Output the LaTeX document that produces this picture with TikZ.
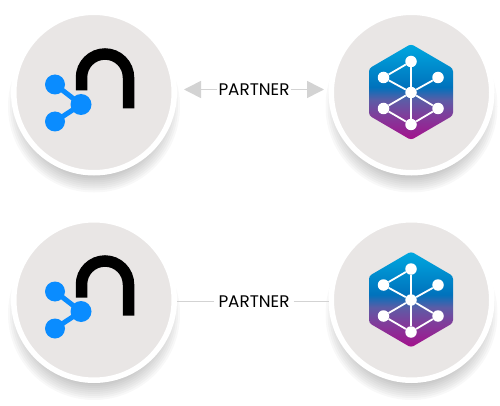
\documentclass[tikz,border=0pt]{standalone}
\usepackage{fontspec}
\setmainfont{Poppins}
\usetikzlibrary{arrows.meta}
\definecolor{badgegray}{HTML}{E9E6E5}
\definecolor{linkgray}{HTML}{D3D3D3}
\definecolor{dotblue}{HTML}{0A8CFF}
\definecolor{hexcyan}{HTML}{00A8E0}
\definecolor{hexblue}{HTML}{0072BC}
\definecolor{hexmauve}{HTML}{5C5CA6}
\definecolor{hexplum}{HTML}{7F3E9B}
\definecolor{hexpurple}{HTML}{A5108C}
\pgfdeclareverticalshading{hexfade}{100bp}{color(0bp)=(hexpurple); color(25bp)=(hexpurple); color(38bp)=(hexplum); color(45.8bp)=(hexmauve); color(52.5bp)=(hexblue); color(75bp)=(hexcyan); color(100bp)=(hexcyan)}
\tikzset{
	badge/.style={circle, draw=white, line width=5.5pt, fill=badgegray, minimum size=160.5pt, inner sep=0pt},
	partnerlabel/.style={font=\fontsize{16.8}{17}\selectfont, text=black, inner sep=1pt},
	arrowlink/.style={draw=linkgray, line width=1.6pt, -{Triangle[length=17pt,width=17pt]}},
	plainlink/.style={draw=linkgray, line width=1.6pt},
	dot/.style={circle, fill=white, minimum size=11.5pt, inner sep=0pt},
	bluedot/.style={circle, fill=dotblue, minimum size=20pt, inner sep=0pt},
	shareicon/.pic={
		\draw[line width=11.5pt, line cap=butt] (-12.5,-4) -- (-12.5,-17) arc[start angle=180, end angle=360, radius=23.5] -- (34.5,14);
		\node[bluedot] (-p) at (-39,-10) {};
		\node[bluedot] (-q) at (-39,27) {};
		\node[bluedot, minimum size=21pt] (-r) at (-13,10) {};
		\draw[dotblue, line width=5pt] (-p.center) -- (-r.center) -- (-q.center);
	},
	hexicon/.pic={
		\shade[shading=hexfade, rounded corners=3pt]
			(1,-50.5) -- (43,-26) -- (43,21) -- (1,45.5) -- (-41,21) -- (-41,-26) -- cycle;
		\node[dot] (-a) at (1,-33) {};
		\node[dot] (-b) at (-26.5,-17) {};
		\node[dot] (-c) at (28,-17) {};
		\node[dot] (-d) at (1,-2) {};
		\node[dot] (-e) at (-26.5,14) {};
		\node[dot] (-f) at (28,14) {};
		\node[dot] (-g) at (1,30) {};
		\foreach \from/\to in {a/b,a/g,b/d,c/d,d/e,d/f,e/g,f/g}
			\draw[white, line width=1.8pt] (-\from) -- (-\to);
	}
}
\begin{document}
\begin{tikzpicture}[x=1pt, y=-1pt]
	\useasboundingbox (0,0) rectangle (500,406);
	% soft shadows
	\foreach \cx/\cy in {94/92.5, 411.5/92.5, 94/300, 411.5/300}
		\foreach \r in {64,66,...,86}
			\fill[black, opacity=0.027] (\cx,\cy+14) circle[radius=\r];
	\node[badge] (nleft) at (94,92.5) {};
	\node[badge] (hexright) at (411.5,92.5) {};
	\node[badge] (nleftb) at (94,300) {};
	\node[badge] (hexrightb) at (411.5,300) {};
	\pic (nt) at (94,94.5) {shareicon};
	\pic (ht) at (410,94.5) {hexicon};
	\pic (nb) at (94,301.5) {shareicon};
	\pic (hb) at (410,302) {hexicon};
	\node[partnerlabel] (ptop) at (254,89.5) {PARTNER};
	\node[partnerlabel, inner sep=4pt] (pbot) at (254,301.5) {PARTNER};
	\draw[arrowlink, shorten >=7pt] (ptop) -- (ptop -| nleft.east);
	\draw[arrowlink, shorten >=4.5pt] (ptop) -- (ptop -| hexright.west);
	\draw[plainlink] (pbot) -- (pbot -| nleftb.east);
	\draw[plainlink] (pbot) -- (pbot -| hexrightb.west);
\end{tikzpicture}
\end{document}
